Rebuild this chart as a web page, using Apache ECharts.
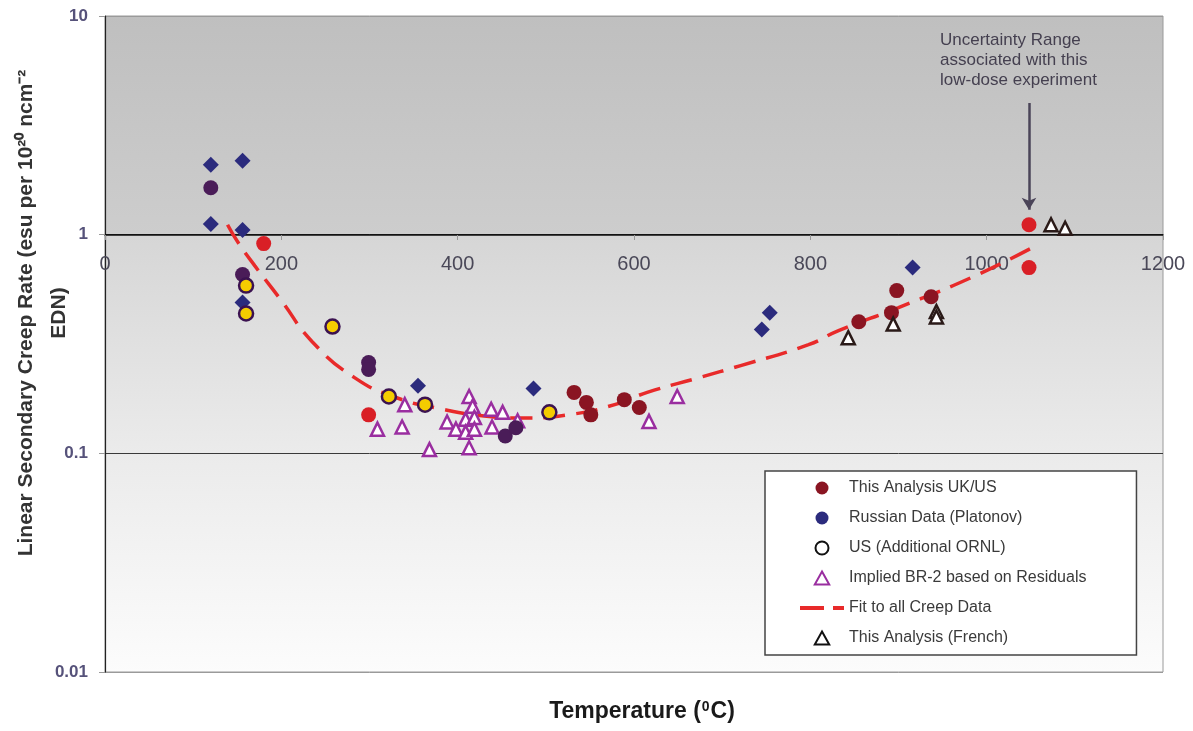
<!DOCTYPE html>
<html>
<head>
<meta charset="utf-8">
<script src="https://cdn.jsdelivr.net/npm/echarts@6/dist/echarts.min.js"></script>
<style>html,body{margin:0;padding:0;background:#fff;}#c{width:1193px;height:731px;}</style>
</head>
<body>
<div id="c"></div>
<script>
// ---- data (temperature in degC, creep rate) ----
const xTicks = [0, 200, 400, 600, 800, 1000, 1200];
const yTicks = [0.01, 0.1, 1, 10];

const ukusTemp = [532, 546, 551, 589, 606, 855, 892, 898, 937];
const ukusRate = [0.19, 0.171, 0.15, 0.176, 0.162, 0.40, 0.44, 0.555, 0.52];

const ukusRedTemp = [180, 299, 1048, 1048];
const ukusRedRate = [0.91, 0.15, 1.11, 0.707];

const russianTemp = [120, 156, 120, 156, 156, 355, 486, 754, 745, 916];
const russianRate = [2.09, 2.18, 1.12, 1.05, 0.49, 0.204, 0.198, 0.44, 0.368, 0.707];

const russianDarkTemp = [120, 156, 299, 299, 454, 466];
const russianDarkRate = [1.64, 0.657, 0.26, 0.242, 0.12, 0.131];

const ornlTemp = [160, 160, 258, 322, 363, 504];
const ornlRate = [0.585, 0.436, 0.38, 0.182, 0.167, 0.154];

const br2Temp = [309, 337, 340, 368, 413, 413, 417, 388, 398, 409, 409, 419, 419, 438, 439, 451, 468, 617, 649];
const br2Rate = [0.129, 0.132, 0.167, 0.104, 0.106, 0.182, 0.164, 0.139, 0.129, 0.143, 0.125, 0.146, 0.129, 0.159, 0.132, 0.154, 0.141, 0.14, 0.182];

const frenchTemp = [843, 894, 943, 943, 1073, 1089];
const frenchRate = [0.338, 0.39, 0.445, 0.42, 1.11, 1.07];

const fitTemp = [139, 151, 170, 200, 235, 283, 330, 380, 430, 470, 530, 580, 615, 674, 721, 798, 832, 900, 985, 1058];
const fitRate = [1.11, 0.92, 0.72, 0.50, 0.324, 0.222, 0.18, 0.16, 0.148, 0.145, 0.151, 0.168, 0.19, 0.222, 0.252, 0.314, 0.364, 0.464, 0.643, 0.90];

const arrowTemp = [1048, 1048];
const arrowRate = [4.0, 1.3];

const annotation = 'Uncertainty Range\nassociated with this\nlow-dose experiment';
const yTitle = 'Linear Secondary Creep Rate (esu per 10²⁰ ncm⁻²\nEDN)';

const pairs = (xs, ys) => xs.map((x, i) => [x, ys[i]]);

const chart = echarts.init(document.getElementById('c'), null, {renderer: 'canvas'});
const FONT = '"Liberation Sans", Arial, sans-serif';
const triPath = 'path://M5,0 L10,9 L0,9 Z';

chart.setOption({
  animation: false,
  textStyle: {fontFamily: FONT},
  grid: {
    left: 105, right: 30, top: 16, bottom: 59,
    containLabel: false, outerBoundsMode: 'none',
    show: true,
    borderColor: '#9a9a9a', borderWidth: 1,
    backgroundColor: new echarts.graphic.LinearGradient(0, 0, 0, 1, [
      {offset: 0, color: '#bfbfbf'},
      {offset: 0.333, color: '#cdcdcd'},
      {offset: 0.336, color: '#d6d6d6'},
      {offset: 0.667, color: '#ebebeb'},
      {offset: 1, color: '#fcfcfc'}
    ])
  },
  legend: {
    orient: 'vertical', left: 765, top: 471,
    itemWidth: 44, itemHeight: 13, itemGap: 14,
    padding: [9, 50, 9, 33],
    backgroundColor: '#ffffff', borderColor: '#444', borderWidth: 1.5,
    textStyle: {fontSize: 16, color: '#3a3a3a', fontFamily: FONT},
    data: [
      {name: 'This Analysis UK/US', icon: 'circle'},
      {name: 'Russian Data (Platonov)', icon: 'circle'},
      {name: 'US (Additional ORNL)', icon: 'circle', itemStyle: {color: '#ffffff', borderColor: '#111', borderWidth: 2}},
      {name: 'Implied BR-2 based on Residuals', icon: triPath},
      {name: 'Fit to all Creep Data', itemStyle: {opacity: 0}, lineStyle: {width: 4, type: [24, 9]}},
      {name: 'This Analysis (French)', icon: triPath, itemStyle: {color: '#ffffff', borderColor: '#111', borderWidth: 2}}
    ]
  },
  xAxis: [{
    type: 'value', min: xTicks[0], max: xTicks[xTicks.length - 1], interval: 200,
    position: 'bottom', offset: -437,
    axisLine: {show: true, onZero: false, lineStyle: {color: '#111', width: 1.5}},
    axisTick: {show: true, length: 5, lineStyle: {color: '#999'}},
    axisLabel: {fontSize: 20, color: '#4a4858', margin: 19, fontFamily: FONT, formatter: v => String(v)},
    splitLine: {show: false}
  }, {
    type: 'value', min: xTicks[0], max: xTicks[xTicks.length - 1],
    position: 'bottom', offset: 0,
    axisLine: {show: false}, axisTick: {show: false}, axisLabel: {show: false}, splitLine: {show: false},
    name: '{a|Temperature (}{s|0}{a|C)}', nameLocation: 'middle', nameGap: 28,
    nameTextStyle: {
      padding: [0, 0, 0, 16],
      rich: {
        a: {fontSize: 23, fontWeight: 'bold', color: '#1a1a1a', fontFamily: FONT},
        s: {fontSize: 14, fontWeight: 'bold', color: '#1a1a1a', fontFamily: FONT, verticalAlign: 'top', padding: [0, 1, 10, 1]}
      }
    }
  }],
  yAxis: {
    type: 'log', logBase: 10, min: yTicks[0], max: yTicks[yTicks.length - 1],
    axisLine: {show: true, lineStyle: {color: '#222', width: 1.2}},
    axisTick: {show: true, length: 6, lineStyle: {color: '#999'}},
    axisLabel: {fontSize: 17, fontWeight: 'bold', color: '#56527a', margin: 17, fontFamily: FONT,
      formatter: v => String(+v.toPrecision(3))},
    splitLine: {show: true, lineStyle: {color: ['#9a9a9a', '#3a3a3a', '#1a1a1a', '#9a9a9a'], width: 1}}
  },
  graphic: [{
    type: 'text', left: 940, top: 30, z: 100,
    style: {text: annotation, font: '17px ' + FONT, fill: '#454050', lineHeight: 20}
  }, {
    type: 'text', x: 43, y: 313, rotation: Math.PI / 2, z: 100,
    style: {text: yTitle, font: 'bold 21px ' + FONT, fill: '#333', lineHeight: 33, align: 'center', verticalAlign: 'middle'}
  }],
  series: [
    {
      name: 'Fit to all Creep Data', type: 'line', smooth: true, symbol: 'none', z: 2,
      data: pairs(fitTemp, fitRate),
      lineStyle: {color: '#e82a2a', width: 3.5, type: [22, 11]},
      itemStyle: {color: '#e82a2a'}
    },
    {
      name: 'Implied BR-2 based on Residuals', type: 'scatter', symbol: 'triangle', symbolSize: 13, z: 3,
      data: pairs(br2Temp, br2Rate),
      itemStyle: {color: '#ffffff', borderColor: '#9a2ea0', borderWidth: 2.5, opacity: 1}
    },
    {
      name: 'Russian Data (Platonov)', type: 'scatter', symbol: 'diamond', symbolSize: 16, z: 4,
      data: pairs(russianTemp, russianRate),
      itemStyle: {color: '#2b2b7d', opacity: 1}
    },
    {
      name: 'Russian (dark)', type: 'scatter', symbol: 'circle', symbolSize: 15, z: 4,
      data: pairs(russianDarkTemp, russianDarkRate),
      itemStyle: {color: '#4a1c58', opacity: 1}
    },
    {
      name: 'This Analysis UK/US', type: 'scatter', symbol: 'circle', symbolSize: 15, z: 4,
      data: pairs(ukusTemp, ukusRate),
      itemStyle: {color: '#8a1522', opacity: 1}
    },
    {
      name: 'UK/US (red)', type: 'scatter', symbol: 'circle', symbolSize: 15, z: 4,
      data: pairs(ukusRedTemp, ukusRedRate),
      itemStyle: {color: '#d91f26', opacity: 1},
      markLine: {
        silent: true, symbol: ['none', 'arrow'], symbolSize: [11, 12],
        lineStyle: {color: '#4a4458', width: 2.5, type: 'solid'},
        label: {show: false},
        data: [[{coord: [arrowTemp[0], arrowRate[0]]}, {coord: [arrowTemp[1], arrowRate[1]]}]]
      }
    },
    {
      name: 'US (Additional ORNL)', type: 'scatter', symbol: 'circle', symbolSize: 14, z: 5,
      data: pairs(ornlTemp, ornlRate),
      itemStyle: {color: '#f5cc00', borderColor: '#3b1250', borderWidth: 2.5, opacity: 1}
    },
    {
      name: 'This Analysis (French)', type: 'scatter', symbol: 'triangle', symbolSize: 13, z: 5,
      data: pairs(frenchTemp, frenchRate),
      itemStyle: {color: '#ffffff', borderColor: '#2a1a18', borderWidth: 2.5, opacity: 1}
    }
  ]
});
</script>
</body>
</html>
